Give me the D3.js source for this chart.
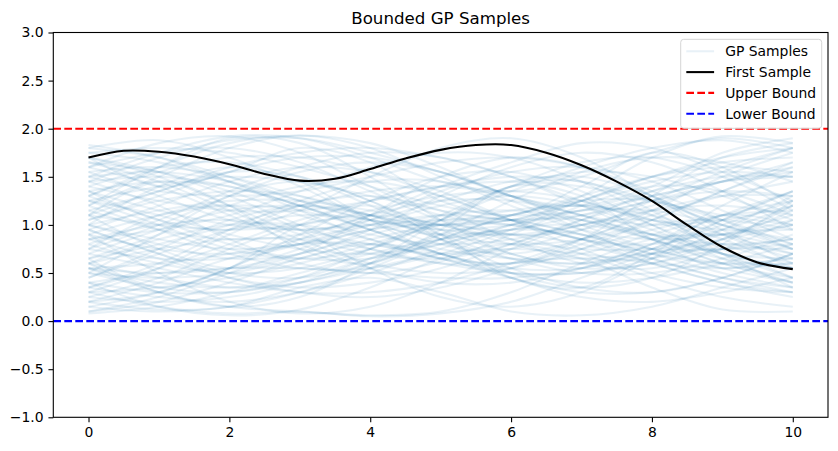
<!DOCTYPE html>
<html>
<head>
<meta charset="utf-8">
<script src="https://cdn.jsdelivr.net/npm/d3@7"></script>
<style>
  body { margin: 0; background: #fff; }
  svg { font-family: "DejaVu Sans", sans-serif; }
</style>
</head>
<body>
<div id="chart"></div>
<script>
// chart values ***********
var xGrid = [0, 1, 2, 3, 4, 5, 6, 7, 8, 9, 10];

var gpSamples = [
  [0.30,0.55,0.90,1.20,1.30,1.15,0.85,0.60,0.55,0.75,1.05],
  [1.45,1.20,0.85,0.60,0.50,0.62,0.90,1.20,1.40,1.35,1.10],
  [0.85,0.95,1.10,1.35,1.60,1.75,1.70,1.45,1.10,0.80,0.60],
  [1.80,1.88,1.70,1.40,1.05,0.80,0.70,0.85,1.15,1.50,1.75],
  [0.10,0.20,0.40,0.65,0.80,0.70,0.45,0.25,0.20,0.30,0.45],
  [1.10,1.35,1.55,1.50,1.25,0.95,0.70,0.55,0.60,0.85,1.20],
  [0.60,0.45,0.35,0.40,0.60,0.90,1.25,1.55,1.70,1.65,1.45],
  [1.25,1.00,0.75,0.65,0.75,1.05,1.40,1.65,1.70,1.50,1.15],
  [0.45,0.75,1.05,1.20,1.10,0.85,0.55,0.35,0.30,0.45,0.70],
  [1.60,1.75,1.80,1.65,1.35,1.05,0.90,0.95,1.15,1.30,1.30],
  [0.95,0.70,0.50,0.45,0.60,0.85,1.10,1.20,1.05,0.75,0.45],
  [0.20,0.30,0.55,0.90,1.25,1.50,1.55,1.35,1.00,0.65,0.40],
  [1.70,1.50,1.20,0.90,0.70,0.65,0.80,1.05,1.35,1.60,1.80],
  [0.75,1.00,1.30,1.55,1.65,1.55,1.30,1.00,0.75,0.60,0.60],
  [1.35,1.45,1.40,1.20,0.95,0.70,0.55,0.55,0.75,1.05,1.35],
  [0.55,0.60,0.70,0.85,1.00,1.10,1.05,0.90,0.70,0.50,0.35],
  [1.00,0.80,0.65,0.70,0.95,1.30,1.60,1.75,1.65,1.35,0.95],
  [0.35,0.25,0.20,0.30,0.50,0.75,0.95,1.00,0.85,0.60,0.40],
  [1.55,1.30,1.05,0.95,1.05,1.25,1.45,1.50,1.30,0.95,0.60],
  [0.65,0.90,1.20,1.40,1.45,1.30,1.05,0.85,0.80,0.95,1.20],
  [1.20,1.50,1.80,1.93,1.80,1.50,1.20,0.95,0.85,0.90,1.05],
  [0.08,0.15,0.30,0.50,0.70,0.85,0.90,0.80,0.60,0.40,0.25],
  [0.90,0.75,0.70,0.80,1.00,1.20,1.30,1.20,0.95,0.70,0.55],
  [1.40,1.60,1.65,1.50,1.20,0.90,0.65,0.50,0.50,0.65,0.90],
  [0.50,0.35,0.30,0.45,0.75,1.10,1.40,1.55,1.50,1.30,1.05],
  [1.75,1.65,1.45,1.20,1.00,0.90,0.95,1.10,1.30,1.45,1.55],
  [0.70,0.55,0.40,0.30,0.30,0.40,0.60,0.85,1.10,1.30,1.45],
  [1.05,1.25,1.35,1.30,1.10,0.85,0.65,0.60,0.70,0.90,1.10],
  [0.25,0.45,0.75,1.00,1.10,1.00,0.80,0.65,0.65,0.85,1.15],
  [1.30,1.05,0.80,0.65,0.65,0.80,1.00,1.15,1.15,1.00,0.80],
  [0.80,1.05,1.35,1.60,1.75,1.70,1.50,1.20,0.90,0.70,0.65],
  [1.65,1.45,1.15,0.85,0.60,0.50,0.55,0.75,1.05,1.35,1.60],
  [0.40,0.50,0.55,0.55,0.50,0.45,0.45,0.55,0.75,1.00,1.25],
  [1.15,0.95,0.85,0.90,1.10,1.40,1.65,1.85,1.80,1.55,1.25],
  [0.60,0.85,1.00,1.00,0.85,0.65,0.50,0.50,0.65,0.95,1.30],
  [1.50,1.55,1.45,1.25,1.05,0.95,1.00,1.15,1.35,1.50,1.50],
  [0.15,0.10,0.15,0.30,0.55,0.85,1.10,1.25,1.25,1.05,0.80],
  [0.95,1.20,1.45,1.60,1.55,1.35,1.05,0.75,0.50,0.35,0.30],
  [1.80,1.70,1.50,1.25,1.05,1.00,1.10,1.30,1.50,1.60,1.55],
  [0.55,0.40,0.35,0.45,0.65,0.85,0.95,0.90,0.75,0.55,0.40],
  [1.25,1.40,1.50,1.45,1.30,1.15,1.05,1.10,1.25,1.45,1.65],
  [0.35,0.60,0.95,1.25,1.45,1.45,1.25,0.95,0.65,0.45,0.35],
  [1.00,0.85,0.75,0.80,0.95,1.10,1.15,1.05,0.85,0.65,0.55],
  [0.75,0.65,0.65,0.80,1.05,1.35,1.55,1.60,1.45,1.15,0.85],
  [1.60,1.40,1.10,0.80,0.55,0.40,0.40,0.55,0.80,1.10,1.35],
  [0.30,0.35,0.45,0.60,0.80,1.00,1.15,1.20,1.10,0.90,0.70],
  [1.45,1.70,1.88,1.90,1.75,1.55,1.30,1.10,1.00,1.05,1.20],
  [0.85,0.65,0.45,0.35,0.40,0.55,0.80,1.05,1.25,1.35,1.30],
  [1.10,1.00,0.95,1.00,1.15,1.30,1.35,1.25,1.00,0.70,0.45],
  [0.45,0.70,0.95,1.10,1.05,0.90,0.80,0.85,1.05,1.35,1.65],
  [1.35,1.15,1.00,0.95,1.00,1.05,1.00,0.85,0.65,0.45,0.30],
  [0.65,0.80,1.00,1.20,1.35,1.40,1.30,1.10,0.90,0.80,0.85],
  [1.75,1.80,1.75,1.60,1.40,1.20,1.10,1.15,1.30,1.45,1.50],
  [0.20,0.40,0.65,0.80,0.80,0.65,0.45,0.30,0.30,0.45,0.70],
  [1.05,1.30,1.55,1.70,1.70,1.55,1.30,1.05,0.90,0.90,1.00],
  [0.50,0.45,0.50,0.65,0.85,1.00,1.00,0.85,0.60,0.40,0.30],
  [1.55,1.60,1.50,1.30,1.10,1.00,1.05,1.25,1.50,1.70,1.80],
  [0.90,1.10,1.20,1.15,0.95,0.70,0.50,0.40,0.45,0.60,0.80],
  [1.20,0.95,0.70,0.55,0.55,0.70,0.95,1.25,1.50,1.65,1.70],
  [0.40,0.30,0.30,0.40,0.55,0.70,0.75,0.70,0.60,0.55,0.60],
  [0.70,0.95,1.15,1.20,1.10,0.95,0.90,1.00,1.20,1.45,1.60],
  [1.40,1.25,1.15,1.15,1.25,1.40,1.50,1.45,1.25,1.00,0.75],
  [0.10,0.25,0.50,0.75,0.95,1.00,0.90,0.70,0.45,0.25,0.15],
  [1.65,1.55,1.35,1.10,0.90,0.80,0.85,1.00,1.15,1.20,1.10],
  [0.80,0.60,0.50,0.55,0.75,1.05,1.35,1.60,1.80,1.88,1.75],
  [1.30,1.55,1.70,1.70,1.55,1.30,1.05,0.85,0.75,0.75,0.80],
  [0.25,0.20,0.25,0.40,0.65,0.90,1.05,1.05,0.90,0.70,0.55],
  [1.00,1.15,1.25,1.25,1.15,1.00,0.85,0.75,0.75,0.85,1.00],
  [1.83,1.70,1.45,1.15,0.85,0.65,0.60,0.70,0.90,1.10,1.25],
  [0.60,0.75,0.85,0.85,0.75,0.60,0.50,0.50,0.60,0.75,0.85],
  [1.50,1.35,1.30,1.35,1.50,1.65,1.70,1.60,1.35,1.05,0.75],
  [0.35,0.55,0.80,1.05,1.25,1.40,1.45,1.40,1.25,1.10,1.00],
  [0.95,0.70,0.45,0.30,0.25,0.35,0.55,0.80,1.00,1.05,0.95],
  [1.15,1.35,1.60,1.75,1.80,1.70,1.50,1.25,1.05,0.95,0.95],
  [0.55,0.50,0.55,0.70,0.90,1.05,1.05,0.90,0.70,0.60,0.65],
  [1.70,1.55,1.30,1.00,0.75,0.60,0.60,0.75,0.95,1.10,1.15],
  [0.15,0.30,0.55,0.85,1.10,1.25,1.25,1.10,0.85,0.60,0.45],
  [1.25,1.10,0.90,0.75,0.70,0.80,1.00,1.25,1.45,1.55,1.50],
  [0.85,1.00,1.05,0.95,0.80,0.70,0.75,0.95,1.25,1.55,1.80],
  [1.45,1.50,1.40,1.20,0.95,0.75,0.65,0.65,0.70,0.75,0.75],
  [1.20,1.60,1.90,1.85,1.50,1.05,0.70,0.60,0.80,1.20,1.55],
  [0.90,0.50,0.20,0.08,0.15,0.40,0.75,1.00,1.05,0.85,0.55],
  [1.00,1.40,1.60,1.45,1.05,0.70,0.60,0.85,1.30,1.70,1.85],
  [0.60,0.30,0.15,0.25,0.60,1.05,1.40,1.45,1.15,0.70,0.35],
  [1.60,1.85,1.92,1.75,1.40,1.10,1.05,1.30,1.70,1.92,1.85],
  [0.40,0.15,0.06,0.12,0.35,0.65,0.80,0.65,0.35,0.12,0.10],
  [1.10,0.75,0.55,0.70,1.10,1.50,1.70,1.60,1.30,1.00,0.85],
  [0.50,0.90,1.30,1.45,1.25,0.85,0.50,0.35,0.45,0.80,1.25],
  [1.35,1.05,0.95,1.15,1.50,1.80,1.90,1.70,1.30,0.90,0.65],
  [0.75,1.10,1.20,0.95,0.55,0.25,0.15,0.30,0.65,1.05,1.35],
  [1.50,1.75,1.92,1.90,1.70,1.45,1.35,1.50,1.75,1.90,1.80],
  [0.30,0.15,0.08,0.10,0.05,0.08,0.20,0.45,0.70,0.80,0.70],
  [0.55,0.30,0.15,0.10,0.06,0.10,0.30,0.60,0.85,0.90,0.75],
  [1.30,1.60,1.85,1.93,1.85,1.60,1.30,1.20,1.40,1.75,1.90],
  [0.20,0.12,0.15,0.35,0.45,0.30,0.10,0.06,0.15,0.35,0.55],
  [1.10,1.45,1.20,0.75,0.60,0.95,1.40,1.30,0.85,0.55,0.70],
  [0.65,0.35,0.55,1.00,1.20,0.90,0.45,0.35,0.70,1.10,1.00],
  [1.70,1.40,1.55,1.80,1.65,1.25,1.10,1.40,1.75,1.60,1.20]
];

var firstX = [0, 0.5, 1, 1.5, 2, 2.5, 3, 3.5, 4, 4.5, 5, 5.5, 6, 6.5, 7, 7.5, 8, 8.5, 9, 9.5, 10];
var firstY = [1.70, 1.77, 1.76, 1.71, 1.63, 1.53, 1.46, 1.48, 1.58, 1.69, 1.78, 1.83, 1.83, 1.75, 1.62, 1.45, 1.25, 1.00, 0.77, 0.61, 0.54];

var upperBound = 2;
var lowerBound = 0;

var xTicks = [0, 2, 4, 6, 8, 10];
var yTicks = [-1.0, -0.5, 0.0, 0.5, 1.0, 1.5, 2.0, 2.5, 3.0];

var legendLabels = ['GP Samples', 'First Sample', 'Upper Bound', 'Lower Bound'];

// svg size and margins ***********
var svgWidth = 838;
var svgHeight = 451;
var margin = { top: 32.5, right: 10, bottom: 33.7, left: 53.3 };
var width = svgWidth - margin.left - margin.right;
var height = svgHeight - margin.top - margin.bottom;

var svg = d3.select('#chart')
  .append('svg')
  .attr('width', svgWidth)
  .attr('height', svgHeight);

var chart = svg.append('g')
  .attr('transform', `translate(${margin.left}, ${margin.top})`);

// scales ***********
var xScale = d3.scaleLinear().domain([-0.5, 10.5]).range([0, width]);
var yScale = d3.scaleLinear().domain([-1, 3]).range([height, 0]);

var line = d3.line()
  .x(d => xScale(d[0]))
  .y(d => yScale(d[1]))
  .curve(d3.curveCatmullRom.alpha(0.5));

var dash = '7.7,3.3';

// GP samples ***********
chart.append('g')
  .selectAll('path')
  .data(gpSamples)
  .enter()
  .append('path')
  .attr('d', s => line(s.map((v, i) => [xGrid[i], v])))
  .attr('fill', 'none')
  .attr('stroke', '#1f77b4')
  .attr('stroke-opacity', 0.1)
  .attr('stroke-width', 2.08);

// first sample ***********
chart.append('path')
  .attr('d', line(firstY.map((v, i) => [firstX[i], v])))
  .attr('fill', 'none')
  .attr('stroke', '#000')
  .attr('stroke-width', 2.08);

// bounds ***********
chart.append('line')
  .attr('x1', 0).attr('x2', width)
  .attr('y1', yScale(upperBound)).attr('y2', yScale(upperBound))
  .attr('stroke', '#ff0000').attr('stroke-width', 2.08)
  .attr('stroke-dasharray', dash);

chart.append('line')
  .attr('x1', 0).attr('x2', width)
  .attr('y1', yScale(lowerBound)).attr('y2', yScale(lowerBound))
  .attr('stroke', '#0000ff').attr('stroke-width', 2.08)
  .attr('stroke-dasharray', dash);

// axes ***********
var bottomAxis = d3.axisBottom(xScale).tickValues(xTicks).tickFormat(d3.format('d'))
  .tickSize(4.86).tickPadding(4.86);
var leftAxis = d3.axisLeft(yScale).tickValues(yTicks).tickFormat(d => d3.format('.1f')(d).replace('-', '\u2212'))
  .tickSize(4.86).tickPadding(4.86);

var gx = chart.append('g')
  .attr('transform', `translate(0,${height})`)
  .call(bottomAxis);
var gy = chart.append('g').call(leftAxis);

[gx, gy].forEach(g => {
  g.select('.domain').remove();
  g.selectAll('.tick line').attr('stroke', '#000').attr('stroke-width', 1.1);
  g.selectAll('.tick text').attr('fill', '#000').style('font-size', '13.9px')
    .style('font-family', '"DejaVu Sans", sans-serif');
});

// frame
chart.append('rect')
  .attr('width', width)
  .attr('height', height)
  .attr('fill', 'none')
  .attr('stroke', '#000')
  .attr('stroke-width', 1.1);

// title
svg.append('text')
  .attr('x', margin.left + width / 2)
  .attr('y', 24)
  .attr('text-anchor', 'middle')
  .style('font-size', '16.67px')
  .text('Bounded GP Samples');

// legend ***********
var legend = chart.append('g')
  .attr('transform', `translate(${680.7 - margin.left}, ${39.3 - margin.top})`);

legend.append('rect')
  .attr('width', 141)
  .attr('height', 89)
  .attr('rx', 3)
  .attr('fill', '#fff')
  .attr('fill-opacity', 0.8)
  .attr('stroke', '#d5d5d5')
  .attr('stroke-width', 1);

var legendStyles = [
  { stroke: '#1f77b4', opacity: 0.1, dash: null },
  { stroke: '#000', opacity: 1, dash: null },
  { stroke: '#ff0000', opacity: 1, dash: dash },
  { stroke: '#0000ff', opacity: 1, dash: dash }
];

var rows = legend.selectAll('g.row')
  .data(legendLabels)
  .enter()
  .append('g')
  .attr('class', 'row')
  .attr('transform', (d, i) => `translate(0, ${12 + i * 20.8})`);

rows.append('line')
  .attr('x1', 5.6).attr('x2', 33.4)
  .attr('y1', 0).attr('y2', 0)
  .attr('stroke', (d, i) => legendStyles[i].stroke)
  .attr('stroke-opacity', (d, i) => legendStyles[i].opacity)
  .attr('stroke-width', 2.08)
  .attr('stroke-dasharray', (d, i) => legendStyles[i].dash);

rows.append('text')
  .attr('x', 44.5)
  .attr('y', 0)
  .attr('dy', '0.36em')
  .style('font-size', '13.9px')
  .text(d => d);
</script>
</body>
</html>
